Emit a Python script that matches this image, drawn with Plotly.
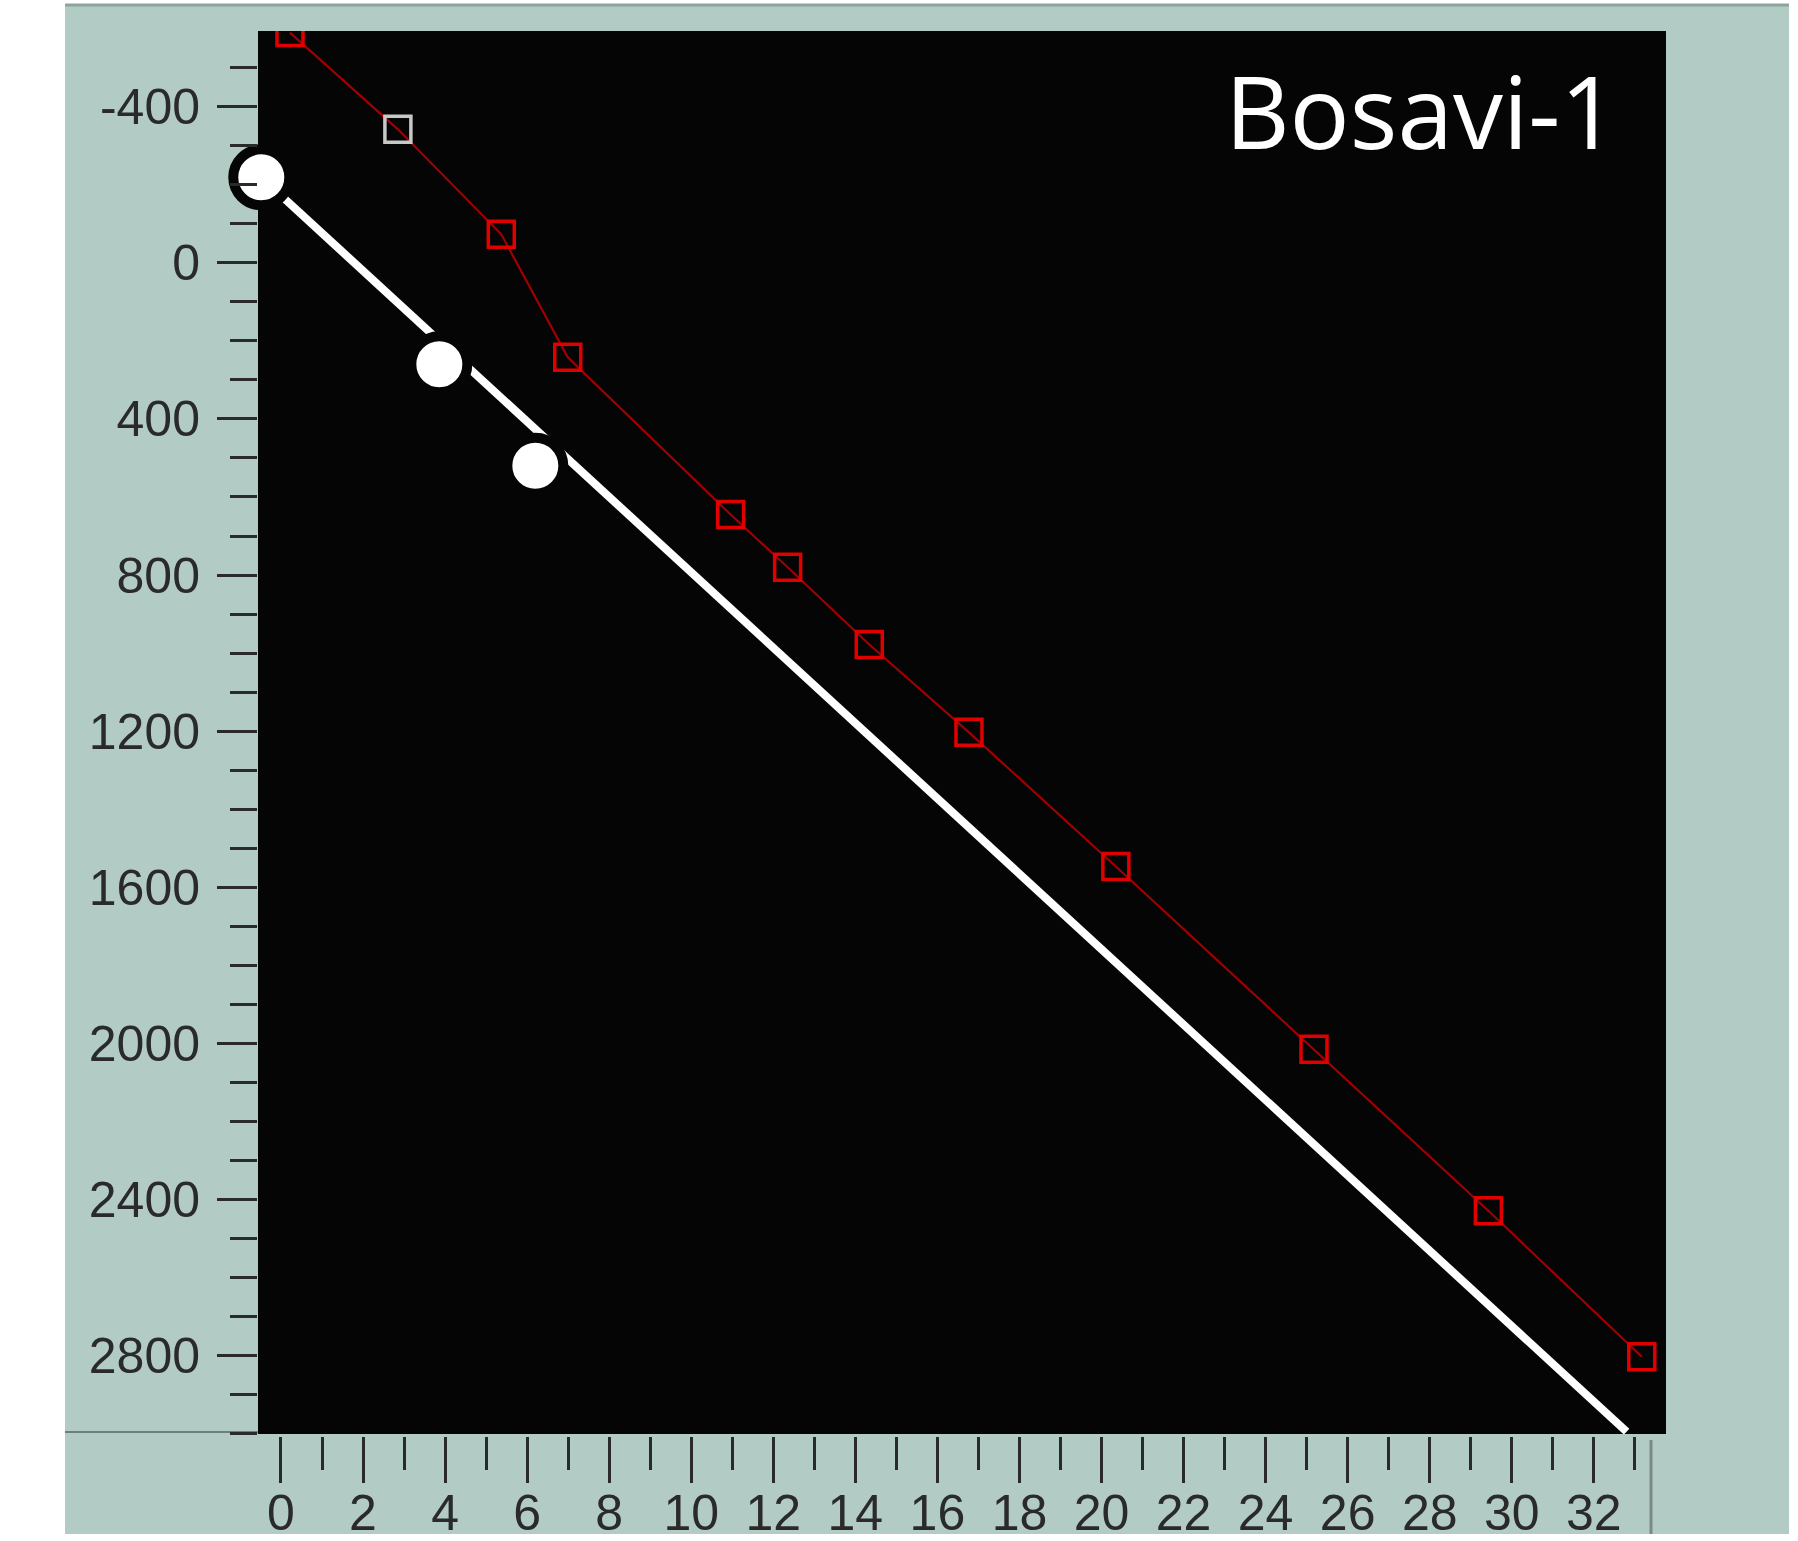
import plotly.graph_objects as go

# ---- data ----
red_x = [0.22, 2.85, 5.37, 6.99, 10.96, 12.35, 14.34, 16.77, 20.35, 25.18, 29.43, 33.17]
red_y = [-590, -342, -73, 242, 645, 780, 978, 1203, 1547, 2015, 2429, 2803]
red_marker_colors = ["#e00000", "#c8c8c8", "#e00000", "#e00000", "#e00000", "#e00000",
                     "#e00000", "#e00000", "#e00000", "#e00000", "#e00000", "#e00000"]

trend_x = [-0.48, 32.8]
trend_y = [-219, 2995]

circle_x = [-0.48, 3.86, 6.2]
circle_y = [-219, 260, 520]

y_tickvals = [-400, 0, 400, 800, 1200, 1600, 2000, 2400, 2800]
y_ticktext = ["-400", "0", "400", "800", "1200", "1600", "2000", "2400", "2800"]
x_tickvals = [0, 2, 4, 6, 8, 10, 12, 14, 16, 18, 20, 22, 24, 26, 28, 30, 32]
x_ticktext = [str(v) for v in x_tickvals]

W, H = 1798, 1541
L, R, T, B = 258, 1666, 31, 1434
TEAL = "#b2ccc5"
PW, PH = R - L, B - T


def px(xp):
    return (xp - L) / PW


def py(yp):
    return (B - yp) / PH


fig = go.Figure()

fig.add_trace(go.Scatter(
    x=trend_x, y=trend_y, mode="lines",
    line=dict(color="white", width=8), hoverinfo="skip", showlegend=False))

fig.add_trace(go.Scatter(
    x=red_x, y=red_y, mode="lines+markers",
    line=dict(color="#a00000", width=2.2),
    marker=dict(symbol="square-open", size=26, color=red_marker_colors,
                line=dict(width=3.5, color=red_marker_colors)),
    showlegend=False))

fig.add_trace(go.Scatter(
    x=circle_x, y=circle_y, mode="markers", cliponaxis=False,
    marker=dict(symbol="circle", size=56, color="white",
                line=dict(width=10, color="#050505")),
    showlegend=False))

fig.update_layout(
    width=W, height=H,
    margin=dict(l=L, r=W - R, t=T, b=H - B, pad=0, autoexpand=False),
    paper_bgcolor="white",
    plot_bgcolor="#050505",
    showlegend=False,
    shapes=[
        dict(type="rect", xref="paper", yref="paper", layer="below",
             x0=px(65), x1=px(1789), y0=py(1534), y1=py(5),
             fillcolor=TEAL, line=dict(width=0)),
        dict(type="rect", xref="paper", yref="paper", layer="below",
             x0=0, x1=1, y0=0, y1=1,
             fillcolor="#050505", line=dict(width=0)),
        dict(type="line", xref="paper", yref="paper", layer="below",
             x0=px(65), x1=0, y0=py(1432), y1=py(1432),
             line=dict(color="#6f7f7a", width=2)),
        dict(type="line", xref="paper", yref="paper",
             x0=px(1651), x1=px(1651), y0=py(1534), y1=py(1440),
             line=dict(color="#7a8a86", width=3)),
        dict(type="line", xref="paper", yref="paper",
             x0=px(65), x1=px(1789), y0=py(5), y1=py(5),
             line=dict(color="#8fa39d", width=3)),
        # small gap strip between plot bottom and x ticks
        dict(type="rect", xref="paper", yref="paper", layer="above",
             x0=0, x1=1, y0=py(B + 3), y1=py(B),
             fillcolor=TEAL, line=dict(width=0)),
    ],
    annotations=[dict(
        text="Bosavi-1", xref="paper", yref="paper",
        x=px(1620), y=py(110),
        xanchor="right", yanchor="middle", showarrow=False,
        font=dict(family="Open Sans", size=100, color="white"))],
)

fig.update_xaxes(
    range=[-0.56, 33.76], tickmode="array", tickvals=x_tickvals, ticktext=x_ticktext,
    automargin=False,
    ticks="outside", ticklen=48, tickwidth=3, tickcolor="#2a2a2a",
    ticklabelstandoff=-13,
    tickfont=dict(family="Liberation Sans, Arial", size=50, color="#2a2a2a"),
    showgrid=False, zeroline=False, showline=False,
    minor=dict(dtick=1, tick0=0, ticks="outside", ticklen=35, tickwidth=3, tickcolor="#2a2a2a", showgrid=False),
)
fig.update_yaxes(
    range=[3001, -594], tickmode="array", tickvals=y_tickvals, ticktext=y_ticktext,
    automargin=False,
    ticks="outside", ticklen=40, tickwidth=3, tickcolor="#2a2a2a",
    ticklabelstandoff=7,
    tickfont=dict(family="Liberation Sans, Arial", size=50, color="#2a2a2a"),
    showgrid=False, zeroline=False, showline=False,
    minor=dict(dtick=100, tick0=0, ticks="outside", ticklen=27, tickwidth=3, tickcolor="#2a2a2a", showgrid=False),
)

fig.write_html("out.html", config={"displayModeBar": False},
               post_script="document.body.style.margin='0px';")
